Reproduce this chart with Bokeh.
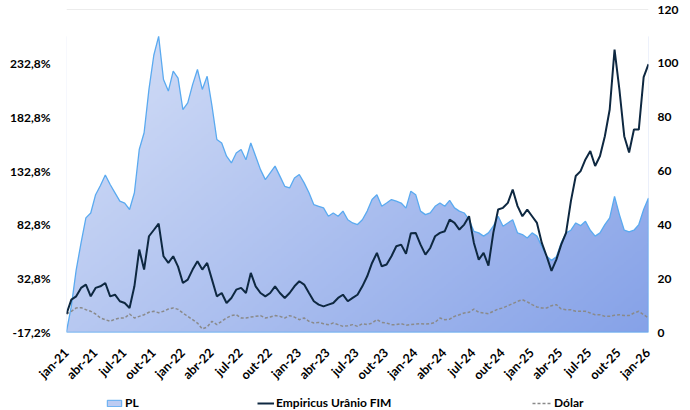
import numpy as np
import pandas as pd
from bokeh.plotting import figure
from bokeh.layouts import column
from bokeh.models import (LinearAxis, Range1d, FixedTicker, Legend, LegendItem, Span)
from bokeh.embed import file_html
from bokeh.resources import INLINE

# ---------------- data ----------------
START, END = "2021-01-04", "2026-01-06"
N_POINTS = 121  # semi-monthly sampling of the daily series

tick_labels = ["jan-21", "abr-21", "jul-21", "out-21",
               "jan-22", "abr-22", "jul-22", "out-22",
               "jan-23", "abr-23", "jul-23", "out-23",
               "jan-24", "abr-24", "jul-24", "out-24",
               "jan-25", "abr-25", "jul-25", "out-25", "jan-26"]

# PL (R$ milhões, right axis)
pl = [0.4, 9.8, 23.3, 33.3, 42.6, 44.4, 51.2, 54.6, 58.5, 55.0,
      51.9, 48.8, 48.1, 45.7, 51.9, 68.0, 74.2, 90.3, 103.0, 110.0,
      94.0, 89.7, 97.1, 94.5, 82.8, 85.3, 92.1, 97.7, 90.3, 95.2,
      84.1, 71.7, 70.4, 65.5, 63.0, 66.7, 68.0, 64.2, 70.4, 65.5,
      60.5, 56.8, 59.3, 61.8, 58.1, 54.3, 53.7, 57.4, 58.7, 55.6,
      51.9, 47.5, 46.9, 46.3, 43.2, 44.4, 43.2, 45.1, 41.9, 40.7,
      40.1, 41.9, 45.1, 49.4, 51.2, 46.9, 48.1, 49.4, 48.8, 48.1,
      46.2, 52.5, 51.2, 45.1, 43.8, 44.4, 46.9, 48.1, 46.9, 49.1,
      46.3, 45.1, 44.4, 41.9, 37.6, 37.0, 35.8, 37.0, 39.5, 43.2,
      39.5, 40.7, 41.9, 37.0, 36.4, 35.1, 37.0, 35.8, 32.0, 28.3,
      26.8, 28.1, 33.3, 37.0, 38.0, 40.7, 39.7, 41.3, 38.0, 35.8,
      37.0, 40.1, 42.6, 50.6, 43.8, 38.0, 37.4, 38.0, 40.1, 45.7,
      50.0]

# Empiricus Urânio FIM (cumulative return, %, left axis)
uranio = [0.0, 13.3, 16.4, 24.2, 27.3, 16.4, 24.2, 25.7, 28.8, 16.4,
          17.9, 11.8, 10.2, 5.6, 25.7, 59.8, 41.2, 72.2, 78.0, 84.0,
          53.6, 47.4, 53.6, 44.0, 28.8, 31.9, 41.2, 49.0, 41.2, 47.4,
          31.9, 16.4, 19.5, 10.2, 14.9, 22.6, 24.2, 19.5, 38.1, 25.7,
          19.5, 16.4, 19.5, 25.7, 19.5, 14.9, 19.5, 25.7, 30.4, 27.3,
          19.5, 11.8, 8.7, 7.1, 8.7, 10.2, 14.9, 17.9, 11.8, 14.9,
          17.9, 25.7, 35.0, 47.4, 56.7, 44.3, 45.9, 53.6, 62.9, 64.4,
          56.0, 75.0, 75.3, 64.4, 55.1, 61.3, 72.2, 75.3, 76.9, 87.6,
          84.6, 78.4, 83.0, 90.8, 66.0, 50.5, 56.7, 45.0, 75.3, 97.0,
          98.6, 103.2, 115.6, 100.2, 90.8, 97.0, 90.8, 84.6, 66.0, 53.6,
          40.0, 50.5, 64.4, 75.3, 104.8, 128.1, 132.7, 143.5, 151.3, 137.4,
          146.7, 165.1, 189.9, 245.6, 208.5, 165.1, 150.0, 171.3, 171.3, 220.0,
          232.0]

# Dólar (cumulative return, %, left axis)
dolar = [0.0, 2.5, 5.6, 5.9, 4.0, 2.5, 0.0, -3.7, -5.3, -6.8,
         -4.8, -3.7, -3.7, 0.0, -3.7, -2.2, -0.7, 1.6, 2.5, 1.2,
         2.5, 4.6, 5.6, 4.3, 0.9, -2.2, -5.3, -8.4, -13.9, -12.1,
         -6.8, -9.9, -6.8, -3.7, -1.5, -0.7, -3.7, -3.7, -2.8, -2.2,
         -1.5, -3.7, -2.8, -1.5, -2.2, -3.7, -1.5, -2.9, -5.3, -3.7,
         -6.8, -8.4, -7.8, -9.0, -9.9, -8.4, -9.9, -11.5, -10.9, -9.9,
         -11.5, -9.0, -9.9, -8.4, -5.3, -7.8, -8.4, -9.9, -9.9, -9.0,
         -10.4, -9.9, -9.3, -9.0, -9.3, -9.0, -7.8, -3.7, -5.3, -4.8,
         -2.2, -0.7, 0.9, 1.5, 4.6, 1.5, 0.9, 0.3, 2.5, 4.6,
         5.6, 7.7, 9.6, 11.8, 13.3, 11.2, 8.7, 6.5, 5.6, 5.6,
         7.7, 8.7, 4.6, 4.0, 4.0, 2.5, 2.5, 2.5, 0.9, -0.7,
         -0.7, -2.2, -2.2, -1.2, -0.7, -1.5, -1.5, 0.9, 2.5, -0.7,
         -3.7]

left_ticks = [-17.2, 32.8, 82.8, 132.8, 182.8, 232.8]
LEFT_MIN, LEFT_MAX = -17.2, 282.8
right_ticks = [0, 20, 40, 60, 80, 100, 120]
RIGHT_MIN, RIGHT_MAX = 0, 120

legend_labels = ["PL", "Empiricus Urânio FIM", "Dólar"]

# ---------------- styles ----------------
FONT = "Lato"
FS = "12.5px"
YFS = "12px"
LFS = "12px"
PL_LINE = "#5aaaf0"
PL_FILL = "#bccbf2"
URA_COLOR = "#0e2841"
DOL_COLOR = "#8a8a8a"

# ---------------- derived ----------------
dates = pd.date_range(START, END, periods=N_POINTS)
tick_dates = pd.date_range(START, periods=len(tick_labels), freq=pd.DateOffset(months=3))
tick_ms = [int(d.value // 10**6) for d in tick_dates]

p = figure(width=690, height=392, x_axis_type="datetime",
           output_backend="svg", toolbar_location=None,
           x_range=Range1d(dates[0], dates[-1]),
           y_range=Range1d(LEFT_MIN, LEFT_MAX),
           min_border_left=66, min_border_right=42,
           min_border_top=9, min_border_bottom=60)
p.extra_y_ranges = {"pl": Range1d(RIGHT_MIN, RIGHT_MAX)}
p.xgrid.visible = False
p.ygrid.visible = False
p.outline_line_color = None
p.background_fill_color = "white"
p.border_fill_color = "white"

# ---- PL area: gradient image, white mask above the PL curve, outline
poly_x = list(dates) + list(dates[::-1])
poly_y = list(pl) + [0] * len(pl)

ny, nx = 160, 320
yy, xx = np.mgrid[0:ny, 0:nx]
t = 0.62 * (xx / (nx - 1)) + 0.38 * (1 - yy / (ny - 1))
light = np.array([214, 224, 247])
dark = np.array([134, 162, 232])
img = np.empty((ny, nx), dtype=np.uint32)
view = img.view(dtype=np.uint8).reshape((ny, nx, 4))
for c in range(3):
    view[:, :, c] = (light[c] * (1 - t) + dark[c] * t).astype(np.uint8)
view[:, :, 3] = 255
x0 = dates[0].value / 1e6
dw = (dates[-1].value - dates[0].value) / 1e6
p.image_rgba(image=[img], x=x0, y=0, dw=dw, dh=max(pl), y_range_name="pl")

p.varea(x=dates, y1=pl, y2=[RIGHT_MAX] * len(pl), y_range_name="pl",
        fill_color="white")
p.patch(poly_x, poly_y, y_range_name="pl", fill_alpha=0,
        line_color=PL_LINE, line_width=1.3)

top_line = Span(location=LEFT_MAX, dimension="width",
                line_color="#d9d9d9", line_width=1)
p.add_layout(top_line)

# ---- lines
p.line(dates, dolar, line_color=DOL_COLOR, line_width=1.5, line_dash="3 2")
p.line(dates, uranio, line_color=URA_COLOR, line_width=2)

# ---- axes
def style_axis(ax, standoff, fs=FS):
    ax.axis_line_color = None
    ax.major_tick_line_color = None
    ax.minor_tick_line_color = None
    ax.major_label_text_font = FONT
    ax.major_label_text_font_style = "bold"
    ax.major_label_text_font_size = fs
    ax.major_label_text_color = "black"
    ax.major_label_standoff = standoff

style_axis(p.yaxis[0], 10, YFS)
p.yaxis[0].ticker = FixedTicker(ticks=left_ticks)
p.yaxis[0].major_label_overrides = {
    t_: (f"{t_:.1f}".replace(".", ",") + "%") for t_ in left_ticks}

style_axis(p.xaxis[0], 12)
p.xaxis[0].ticker = FixedTicker(ticks=tick_ms)
p.xaxis[0].major_label_overrides = dict(zip(tick_ms, tick_labels))
p.xaxis[0].major_label_orientation = np.pi / 4

ra = LinearAxis(y_range_name="pl", ticker=FixedTicker(ticks=right_ticks))
style_axis(ra, 3, YFS)
p.add_layout(ra, "right")

# ---------------- legend strip (separate small figure) ----------------
lf = figure(width=690, height=18, output_backend="svg", toolbar_location=None,
            x_range=p.x_range, y_range=Range1d(LEFT_MIN, LEFT_MAX),
            min_border=0, x_axis_location=None, y_axis_location=None)
lf.xgrid.visible = False
lf.ygrid.visible = False
lf.outline_line_color = None

# legend-only renderers (hidden; they carry the glyph styles for the swatches)
g_pl = lf.patch(poly_x, poly_y, fill_color=PL_FILL, line_color=PL_LINE,
                line_width=1, visible=False)
g_ura = lf.line(dates, uranio, line_color=URA_COLOR, line_width=2, visible=False)
g_dol = lf.line(dates, dolar, line_color=DOL_COLOR, line_width=1.5,
                line_dash="3 2", visible=False)

FRAME_LEFT = 66  # the strip's frame is aligned with the chart's frame

def make_legend(label, renderer, page_x, gw, gh):
    lg = Legend(items=[LegendItem(label=label, renderers=[renderer])],
                location=(page_x - FRAME_LEFT, 0), orientation="horizontal",
                border_line_color=None, background_fill_alpha=0,
                inactive_fill_alpha=0,
                padding=0, margin=0, spacing=0,
                glyph_width=gw, glyph_height=gh, label_standoff=2,
                label_height=14, label_text_font=FONT,
                label_text_font_style="bold", label_text_font_size=LFS,
                label_text_color="black")
    lf.add_layout(lg, "center")

make_legend(legend_labels[0], g_pl, 105, 18, 8)
make_legend(legend_labels[1], g_ura, 257, 17, 14)
make_legend(legend_labels[2], g_dol, 532, 20, 14)

layout = column(p, lf, spacing=0)
open("out.html", "w").write(file_html(layout, INLINE))
